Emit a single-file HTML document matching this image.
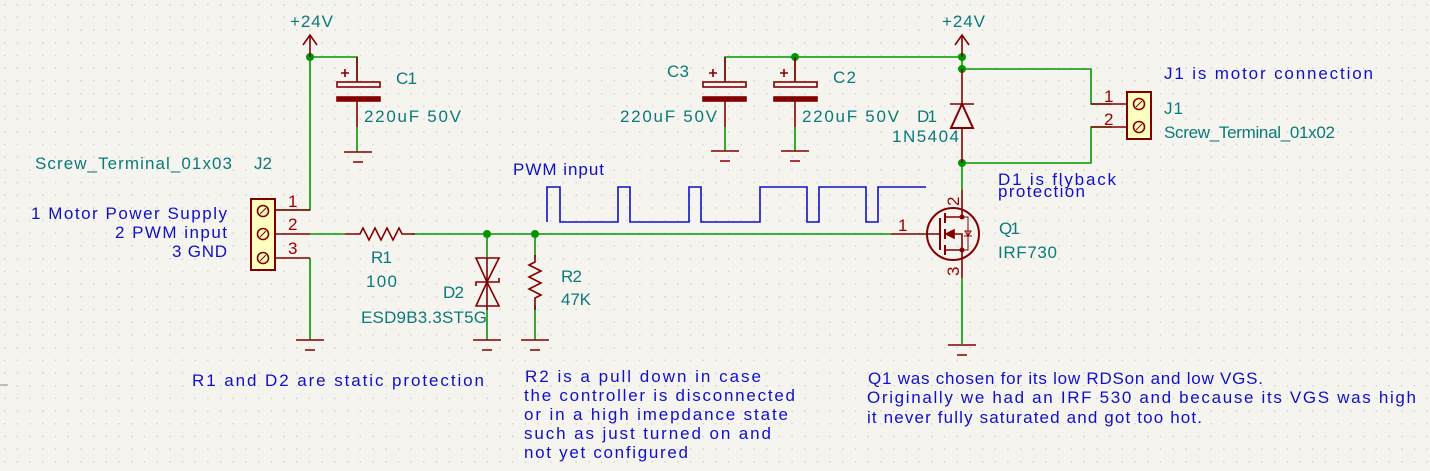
<!DOCTYPE html>
<html><head><meta charset="utf-8"><style>
html,body{margin:0;padding:0;background:#f5f4ef;}
svg{display:block;}
text{font-family:"Liberation Sans",sans-serif;font-size:17px;}
.t{fill:#0a7a7a;}
.b{fill:#1010c8;}
.r{fill:#a00000;}
.w{stroke:#009a00;stroke-width:1.6;fill:none;}
.c{stroke:#840000;stroke-width:1.6;fill:none;}
</style></head><body>
<svg width="1430" height="471" viewBox="0 0 1430 471" xmlns="http://www.w3.org/2000/svg">
<defs>
<pattern id="g" x="4" y="4" width="12.7" height="12.7" patternUnits="userSpaceOnUse">
<rect x="0" y="0" width="1.4" height="1.4" fill="#cfcfcf"/>
</pattern>
<g id="gnd"><path class="c" d="M-14 0H14M-5 10H5" /></g>
</defs>
<rect width="1430" height="471" fill="#f5f4ef"/>
<rect width="1430" height="471" fill="url(#g)"/>
<path d="M0 385H8" stroke="#888" stroke-width="1"/>

<!-- wires -->
<g class="w">
<path d="M310 57V210H275"/>
<path d="M310 57H357V80"/>
<path d="M357 127V152"/>
<path d="M310 234H345"/>
<path d="M412 234H891"/>
<path d="M310 258V340"/>
<path d="M487 234V258"/><path d="M487 310V340"/>
<path d="M535 234V258"/><path d="M535 305V340"/>
<path d="M725 80V57H962"/>
<path d="M795 57V80"/>
<path d="M725 127V151"/><path d="M795 127V151"/>
<path d="M962 57V69H1091V104H1112"/>
<path d="M1112 127H1091V163H962V190"/>
<path d="M962 278V344"/>
</g>
<g fill="#009a00">
<circle cx="310" cy="57" r="4"/><circle cx="487" cy="234" r="4"/><circle cx="535" cy="234" r="4"/>
<circle cx="795" cy="57" r="4"/><circle cx="962" cy="57" r="4"/><circle cx="962" cy="69" r="4"/><circle cx="962" cy="163" r="4"/>
</g>

<!-- power symbols -->
<g class="c">
<path d="M310 35V57M303 45L310 35L317 45"/>
<path d="M962 35V57M955 45L962 35L969 45"/>
<path d="M962 69V104"/><path d="M962 128V163"/>
</g>
<text class="t" x="290" y="27" textLength="43">+24V</text>
<text class="t" x="942" y="27" textLength="43">+24V</text>

<!-- caps -->
<g class="c">
<path d="M357 57V82"/><rect x="337" y="82" width="43" height="5"/><rect x="337" y="97" width="43" height="4" fill="#840000"/><path d="M357 101V127"/>
<path d="M341 73h8M345 69v8"/>
<path d="M725 57V82"/><rect x="703" y="82" width="43" height="5"/><rect x="703" y="97" width="43" height="4" fill="#840000"/><path d="M725 101V127"/>
<path d="M709 73h8M713 69v8"/>
<path d="M795 57V82"/><rect x="774" y="82" width="43" height="5"/><rect x="774" y="97" width="43" height="4" fill="#840000"/><path d="M795 101V127"/>
<path d="M780 73h8M784 69v8"/>
</g>
<use href="#gnd" x="358" y="152"/><use href="#gnd" x="725" y="151"/><use href="#gnd" x="795" y="151"/>
<use href="#gnd" x="310" y="340"/><use href="#gnd" x="487" y="340"/><use href="#gnd" x="535" y="340"/><use href="#gnd" x="962" y="345"/>
<text class="t" x="396" y="84" textLength="21">C1</text>
<text class="t" x="364" y="122" textLength="97">220uF 50V</text>
<text class="t" x="667" y="77" textLength="22">C3</text>
<text class="t" x="620" y="122" textLength="97">220uF 50V</text>
<text class="t" x="833" y="83" textLength="23">C2</text>
<text class="t" x="802" y="122" textLength="97">220uF 50V</text>

<!-- D1 -->
<g class="c">
<path d="M950 104H974"/><path d="M962 104L951 128H973Z" stroke-width="2"/>
</g>
<text class="t" x="917" y="122" textLength="20">D1</text>
<text class="t" x="892" y="142" textLength="67">1N5404</text>

<!-- J1 -->
<g class="c">
<path d="M1091 104H1127M1091 127H1127"/>
<rect x="1127" y="92" width="24" height="47" fill="#ffffc2" stroke-width="2"/>
<circle cx="1139" cy="104" r="5.5"/><circle cx="1139" cy="127" r="5.5"/>
<path d="M1136 107L1142 101M1136 130L1142 124" stroke-width="1"/>
</g>
<text class="r" x="1104" y="102">1</text><text class="r" x="1104" y="125">2</text>
<text class="b" x="1164" y="79" textLength="209">J1 is motor connection</text>
<text class="t" x="1164" y="114" textLength="19">J1</text>
<text class="t" x="1164" y="138" textLength="171">Screw_Terminal_01x02</text>
<text class="b" x="998" y="185" textLength="118">D1 is flyback</text>
<text class="b" x="998" y="197" textLength="87">protection</text>

<!-- PWM -->
<text class="b" x="513" y="175" textLength="91">PWM input</text>
<path d="M547 222V187H560V222H618V187H630V222H689V187H701V222H760V187H807V222H819V187H866V222H878V187H926" stroke="#1010c8" stroke-width="1.6" fill="none"/>

<!-- J2 -->
<text class="t" x="35" y="169" textLength="197">Screw_Terminal_01x03</text>
<text class="t" x="254" y="169" textLength="18">J2</text>
<text class="b" x="227" y="219" text-anchor="end" textLength="196">1 Motor Power Supply</text>
<text class="b" x="227" y="238" text-anchor="end" textLength="112">2 PWM input</text>
<text class="b" x="227" y="257" text-anchor="end" textLength="55">3 GND</text>
<g class="c">
<path d="M275 210H310M275 234H310M275 258H310" />
<rect x="251" y="199" width="24" height="71" fill="#ffffc2" stroke-width="2"/>
<circle cx="263" cy="211" r="5.5"/><circle cx="263" cy="234" r="5.5"/><circle cx="263" cy="258" r="5.5"/>
<path d="M260 214L266 208M260 237L266 231M260 261L266 255" stroke-width="1"/>
</g>
<text class="r" x="288" y="207">1</text><text class="r" x="288" y="230">2</text><text class="r" x="288" y="254">3</text>

<!-- R1 -->
<path class="c" d="M345 234H360L363 228L369 240L375 228L381 240L387 228L393 240L399 228L402 234H415"/>
<text class="t" x="371" y="263" textLength="21">R1</text>
<text class="t" x="366" y="287" textLength="31">100</text>

<!-- D2 -->
<g class="c" stroke-width="2">
<path d="M487 258V310"/>
<path d="M476 258H499L487 282Z"/>
<path d="M476 306H499L487 282Z"/>
<path d="M476 286V282H499V278"/>
</g>
<text class="t" x="443" y="298" textLength="21">D2</text>
<text class="t" x="361" y="323" textLength="126">ESD9B3.3ST5G</text>

<!-- R2 -->
<path class="c" d="M535 255V262L529 265L541 271L529 277L541 283L529 289L541 295L535 298V310"/>
<text class="t" x="561" y="282" textLength="21">R2</text>
<text class="t" x="561" y="305" textLength="30">47K</text>

<!-- Q1 -->
<g class="c">
<path d="M891 234H940"/>
<circle cx="953" cy="234" r="26" stroke-width="2"/>
<path d="M940 218V250" stroke-width="2"/>
<path d="M945 213V223M945 229V239M945 245V255" stroke-width="2"/>
<path d="M945 217H962V190M945 250H962V278M945 234H962V250"/>
<path d="M946 234L954 230V238Z" fill="#840000"/>
<path d="M962 217H968V250H962M964 236H972M968 236L965 231H971Z" stroke-width="1"/>
</g>
<circle cx="962" cy="217" r="2.5" fill="#840000"/><circle cx="962" cy="250" r="2.5" fill="#840000"/>
<text class="r" x="898" y="231">1</text>
<text class="r" transform="translate(959,206) rotate(-90)">2</text>
<text class="r" transform="translate(959,276) rotate(-90)">3</text>
<text class="t" x="999" y="234" textLength="21">Q1</text>
<text class="t" x="998" y="258" textLength="59">IRF730</text>

<!-- notes -->
<text class="b" x="192" y="386" textLength="292">R1 and D2 are static protection</text>
<text class="b" x="525" y="382" textLength="236">R2 is a pull down in case</text>
<text class="b" x="524" y="401" textLength="271">the controller is disconnected</text>
<text class="b" x="524" y="420" textLength="264">or in a high imepdance state</text>
<text class="b" x="524" y="439" textLength="247">such as just turned on and</text>
<text class="b" x="524" y="458" textLength="164">not yet configured</text>
<text class="b" x="868" y="384" textLength="395">Q1 was chosen for its low RDSon and low VGS.</text>
<text class="b" x="867" y="403" textLength="549">Originally we had an IRF 530 and because its VGS was high</text>
<text class="b" x="867" y="423" textLength="335">it never fully saturated and got too hot.</text>
</svg>
</body></html>
